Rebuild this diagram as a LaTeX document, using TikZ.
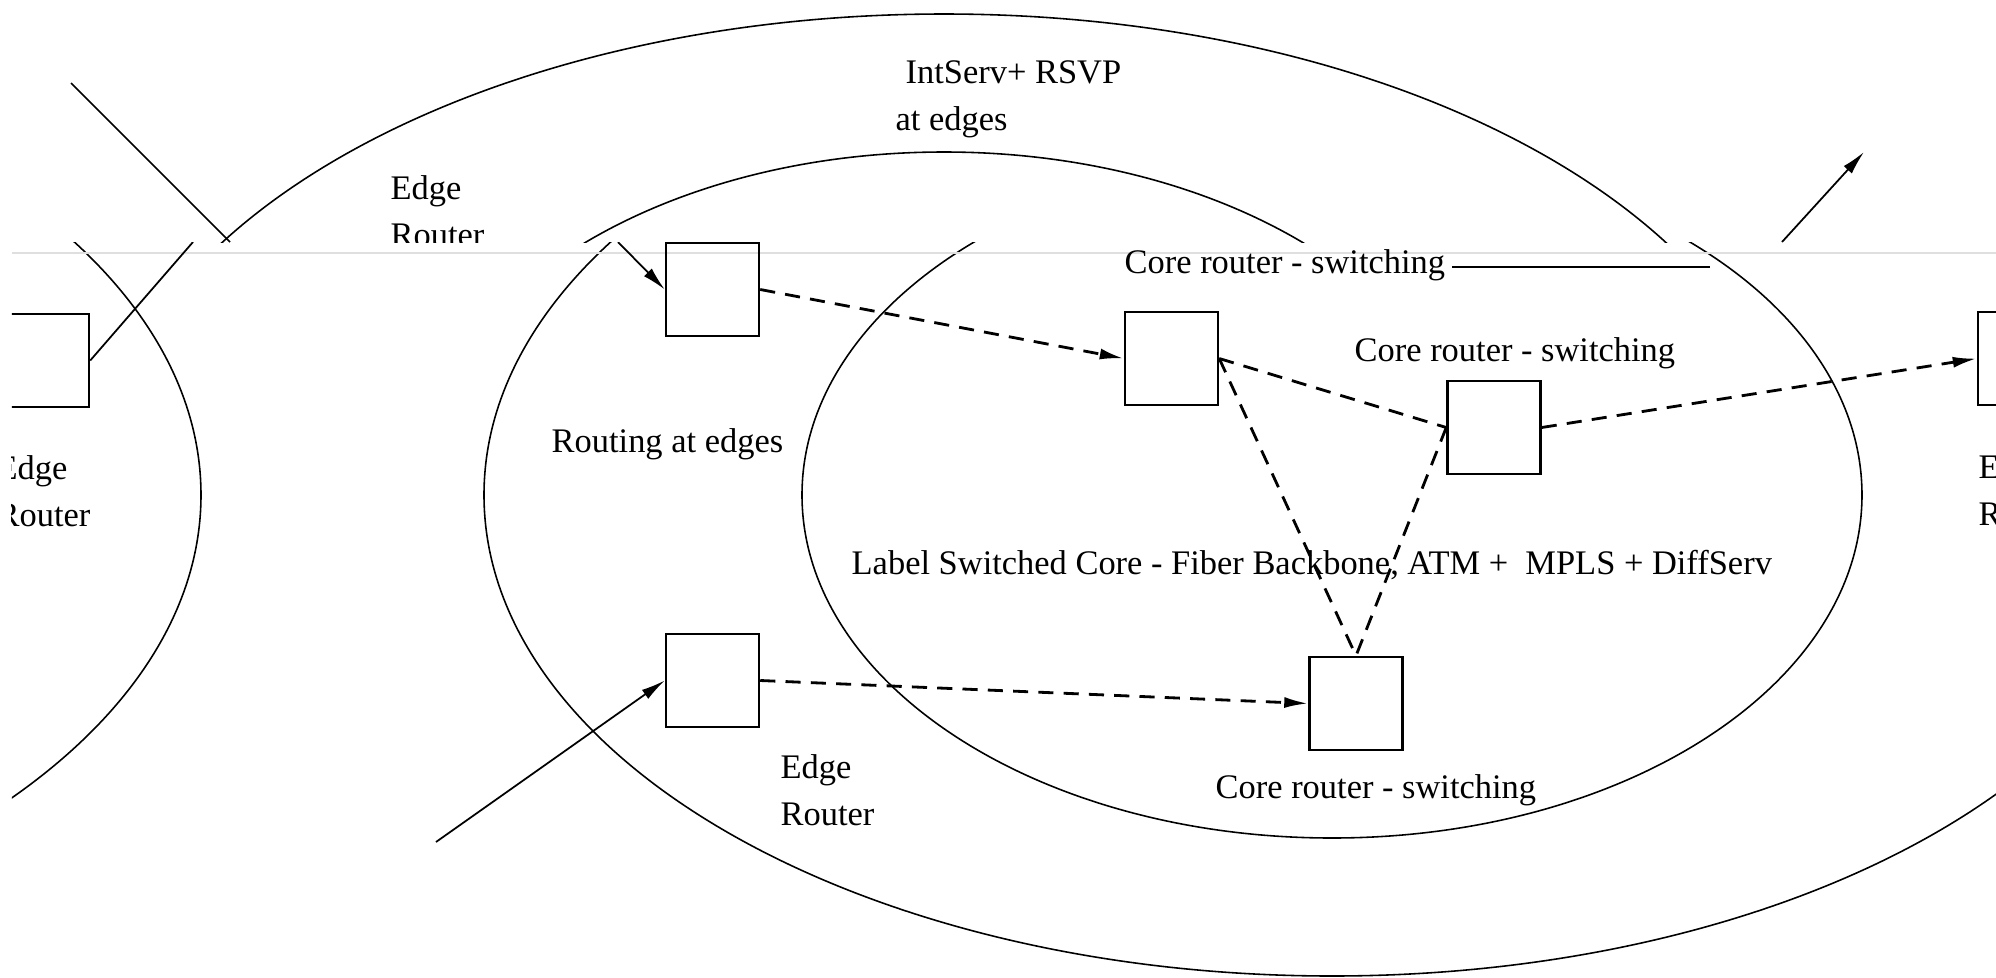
\documentclass[tikz,border=0pt]{standalone}
\usepackage{fontspec}
\setmainfont{Liberation Serif}
\usepackage{tikz}
\usetikzlibrary{arrows.meta}

\begin{document}
\begin{tikzpicture}[
    font=\fontsize{9.8}{13.4}\selectfont,
    router/.style={draw, line width=0.7pt, minimum width=0.93cm, minimum height=0.93cm, inner sep=0pt},
    lbl/.style={anchor=west, inner sep=0pt, align=left},
    dlink/.style={line width=0.8pt, dash pattern=on 4.3pt off 2.9pt},
    feed/.style={line width=0.5pt},
    netring/.style={line width=0.45pt},
    headed/.style={-{Latex[length=2.4mm,width=1.1mm]}}
  ]
  \useasboundingbox (0,0) rectangle (19.96,-9.78);

  % Dominios (la franja de arriba del escaneo esta corrida)
  \foreach \dx/\ytop/\ybot in {0/2.42/9.78, -3.88/0/2.42} {
    \begin{scope}
      \clip (0.12,-\ytop) rectangle (19.96,-\ybot);
      \begin{scope}[xshift=\dx cm]
        \draw[netring] (13.32,-4.95) ellipse (8.48 and 4.81);
        \draw[netring] (13.32,-4.95) ellipse (5.30 and 3.43);
        \draw[netring] (-6.47,-4.95) ellipse (8.48 and 4.81);
      \end{scope}
    \end{scope}
  }

  % Costura del escaneo
  \draw[gray!25, line width=0.6pt] (0.12,-2.53) -- (19.96,-2.53);

  % Franja de arriba
  \begin{scope}
    \clip (0.12,0) rectangle (19.96,-2.42);
    \node[lbl] (edgeAlbl) at (3.90,-2.11) {Edge\\Router};
    \node[lbl] (intserv) at (8.95,-0.99) {\hspace*{1mm}IntServ+ RSVP\\at edges};
    \coordinate (inAtop) at (0.71,-0.83);
    \coordinate (inAcut) at (2.30,-2.42);
    \coordinate (outRcut) at (17.82,-2.42);
    \coordinate (outRtip) at (18.64,-1.52);
    \draw[feed] (inAtop) -- (inAcut);
    \draw[feed, headed] (outRcut) -- (outRtip);
  \end{scope}

  % Routers y enlaces
  \begin{scope}
    \clip (0.12,-2.42) rectangle (19.96,-9.78);
    \node[router] (lbox) at (0.425,-3.605) {};
    \node[router] (edgeA) at (7.125,-2.895) {};
    \node[router] (coreA) at (11.715,-3.585) {};
    \node[router] (coreB) at (14.94,-4.275) {};
    \node[router] (edgeB) at (7.125,-6.805) {};
    \node[router] (coreC) at (13.56,-7.035) {};
    \node[router] (rbox) at (20.245,-3.585) {};

    \coordinate (inA) at (6.18,-2.42);
    \coordinate (inB) at (4.36,-8.42);
    \coordinate (outL) at (1.93,-2.42);

    \draw[feed] (lbox.east) -- (outL);
    \draw[feed, headed] (inA) -- (edgeA.west);
    \draw[feed, headed] (inB) -- (edgeB.west);
    \draw[dlink, headed] (edgeA.east) -- (coreA.west);
    \draw[dlink] (coreA.east) -- (coreB.west);
    \draw[dlink] (coreA.east) -- (coreC.north);
    \draw[dlink] (coreB.west) -- (coreC.north);
    \draw[dlink, headed] (coreB.east) -- (rbox.west);
    \draw[dlink, headed] (edgeB.east) -- (coreC.west);

    % Etiquetas
    \node[lbl] (lboxlbl) at (-0.04,-4.91) {Edge\\Router};
    \node[lbl] (routing) at (5.51,-4.44) {Routing at edges};
    \node[lbl] (coreAlbl) at (11.24,-2.65) {Core router - switching};
    \draw[feed] (14.52,-2.67) -- (17.10,-2.67);
    \node[lbl] (coreBlbl) at (13.54,-3.53) {Core router - switching};
    \node[lbl] (lsc) at (8.51,-5.65) {Label Switched Core - Fiber Backbone, ATM +\ \ MPLS + DiffServ};
    \node[lbl] (coreClbl) at (12.15,-7.90) {Core router - switching};
    \node[lbl] (edgeBlbl) at (7.80,-7.90) {Edge\\Router};
    \node[lbl] (rboxlbl) at (19.78,-4.90) {Edge\\Router};
  \end{scope}
\end{tikzpicture}
\end{document}
